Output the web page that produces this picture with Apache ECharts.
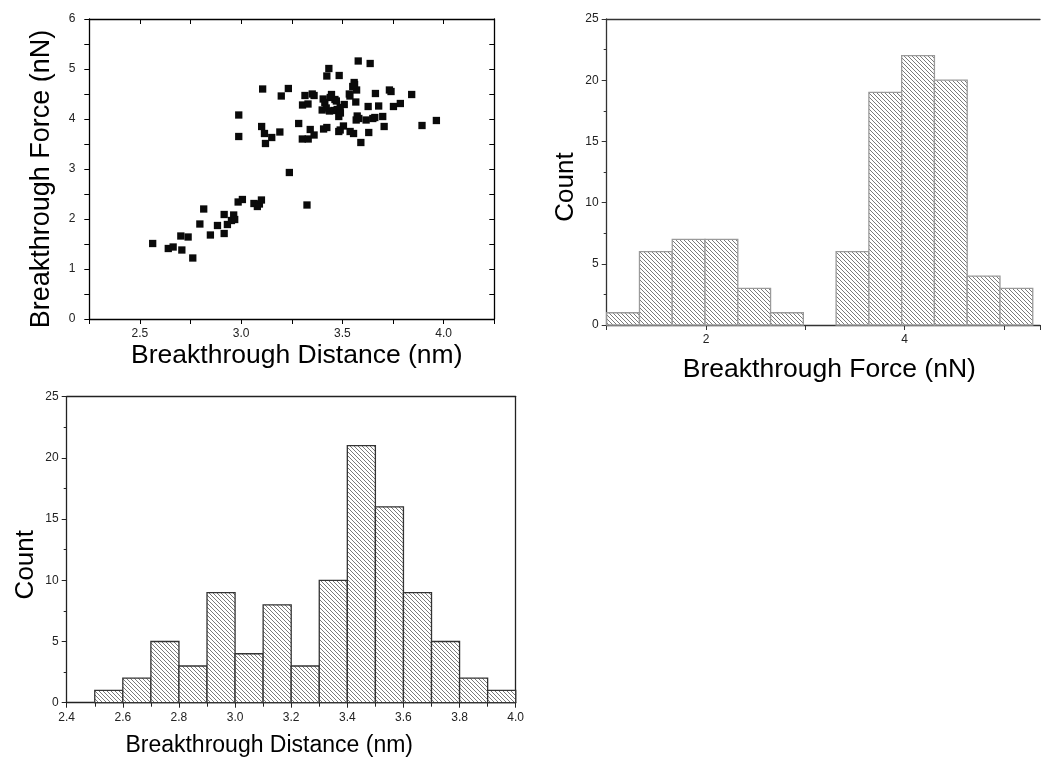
<!DOCTYPE html>
<html><head><meta charset="utf-8">
<script src="https://cdn.jsdelivr.net/npm/echarts@6/dist/echarts.min.js"></script>
<style>html,body{margin:0;padding:0;background:#fff}#c{width:1043px;height:760px}</style>
</head><body><div id="c"></div>
<script>
// ---- Scatter: Breakthrough Distance (nm) vs Breakthrough Force (nN) ----
const scatterDistance = [
  2.563,2.64,2.664,2.702,2.738,2.707,2.761,2.796,2.815,2.848,2.883,2.916,2.916,2.932,2.952,2.963,2.968,2.985,3.006,3.063,3.08,3.09,3.10,3.238,3.325,
  3.106,3.233,3.198,3.315,3.351,3.303,2.988,3.284,3.101,3.115,3.191,3.151,3.341,2.988,3.12,3.302,3.331,3.36,
  3.578,3.637,3.433,3.423,3.484,3.558,3.551,3.57,3.663,3.534,3.446,3.463,3.405,3.413,
  3.537,3.566,3.509,3.627,3.679,3.489,3.40,3.436,3.458,3.474,
  3.482,3.573,3.568,3.581,3.617,3.65,3.699,3.706,3.407,3.423,
  3.505,3.482,3.489,3.538,3.555,3.63,3.591,
  3.732,3.842,3.786,3.752,3.893,3.964,
  3.36,3.44,3.47,3.74,3.33,3.42,3.49,3.66,3.56
];
const scatterForce = [
  1.51,1.41,1.44,1.66,1.64,1.38,1.22,1.90,2.20,1.68,1.87,2.09,1.71,1.89,1.97,2.08,1.99,2.34,2.39,2.31,2.25,2.30,2.38,2.93,2.28,
  4.60,4.61,4.46,4.47,4.50,4.28,4.08,3.91,3.85,3.71,3.74,3.63,3.79,3.65,3.51,3.60,3.60,3.68,
  5.16,5.11,5.01,4.86,4.87,4.73,4.65,4.58,4.51,4.50,4.49,4.39,4.40,4.33,
  4.46,4.34,4.29,4.25,4.26,4.23,4.18,4.16,4.17,4.19,
  4.05,4.06,3.98,4.01,3.98,4.01,4.05,3.85,3.80,3.83,
  3.86,3.75,3.78,3.75,3.71,3.73,3.53,
  4.58,4.49,4.31,4.25,3.87,3.97,
  4.47,4.43,4.36,4.55,4.30,4.22,4.12,4.03,4.69
];

// ---- Histogram of Breakthrough Force (nN) ----
const forceBinStart = 1.0;
const forceBinWidth = 0.33;
const forceCounts = [1, 6, 7, 7, 3, 1, 0, 6, 19, 22, 20, 4, 3];

// ---- Histogram of Breakthrough Distance (nm) ----
const distBinStart = 2.5;
const distBinWidth = 0.1;
const distCounts = [1, 2, 5, 3, 9, 4, 8, 3, 10, 21, 16, 9, 5, 2, 1];

const FONT = 'Liberation Sans, Arial, Helvetica, sans-serif';

function makeHatch(color, size) {
  const c = document.createElement('canvas');
  c.width = size; c.height = size;
  const g = c.getContext('2d');
  g.fillStyle = '#ffffff'; g.fillRect(0, 0, size, size);
  g.fillStyle = color;
  for (let i = 0; i < size; i++) g.fillRect(i, i, 1, 1);
  return c;
}
const hatch = makeHatch('#7a7a7a', 4);

function histData(start, width, counts) {
  return counts.map((c, i) => [start + i * width, start + (i + 1) * width, c]);
}
function histRender(stroke) {
  return function (params, api) {
    const x0 = api.value(0), x1 = api.value(1), c = api.value(2);
    if (!c) return null;
    const p0 = api.coord([x0, 0]);
    const p1 = api.coord([x1, c]);
    return {
      type: 'rect',
      shape: { x: p0[0], y: p1[1], width: p1[0] - p0[0], height: p0[1] - p1[1] },
      style: { fill: { image: hatch, repeat: 'repeat' }, stroke: stroke, lineWidth: 1.3 }
    };
  };
}

const lbl = (extra) => Object.assign({ fontSize: 12, color: '#222', fontFamily: FONT }, extra || {});
const nameStyle = (size, extra) => Object.assign({ fontSize: size, color: '#000', fontFamily: FONT }, extra || {});
const line = (color) => ({ show: true, onZero: false, lineStyle: { color: color, width: 1.3 } });
const noSplit = { show: false };

const option = {
  animation: false,
  backgroundColor: '#fff',
  grid: [
    { left: 89.3, top: 19, width: 405, height: 300 },
    { left: 606.7, top: 19, width: 436.3, height: 306 },
    { left: 66.7, top: 396.7, width: 449, height: 306 }
  ],
  xAxis: [
    { gridIndex: 0, type: 'value', min: 2.25, max: 4.25, interval: 0.25, position: 'bottom',
      axisLine: line('#000'), axisTick: { show: true, inside: false, length: 5, lineStyle: { color: '#000' } },
      axisLabel: lbl({ margin: 9, formatter: v => (Math.abs(v * 2 - Math.round(v * 2)) < 1e-6 ? v.toFixed(1) : '') }),
      splitLine: noSplit,
      name: 'Breakthrough Distance (nm)', nameLocation: 'middle', nameGap: 23,
      nameTextStyle: nameStyle(26.5, { padding: [0, 0, 0, 10] }) },
    { gridIndex: 0, type: 'value', min: 2.25, max: 4.25, interval: 0.25, position: 'top',
      axisLine: line('#000'), axisTick: { show: true, inside: true, length: 5, lineStyle: { color: '#000' } },
      axisLabel: { show: false }, splitLine: noSplit },
    { gridIndex: 1, type: 'value', min: 1, max: 5.363, interval: 1, position: 'bottom',
      axisLine: line('#333'), axisTick: { show: true, inside: false, length: 5, lineStyle: { color: '#333' } },
      axisLabel: lbl({ margin: 9, formatter: v => (Math.abs(v - 2) < 1e-6 || Math.abs(v - 4) < 1e-6 ? String(Math.round(v)) : '') }),
      splitLine: noSplit,
      name: 'Breakthrough Force (nN)', nameLocation: 'middle', nameGap: 31,
      nameTextStyle: nameStyle(26.5, { padding: [0, 0, 0, 12] }) },
    { gridIndex: 1, type: 'value', min: 1, max: 5.363, position: 'top',
      axisLine: line('#333'), axisTick: { show: false }, axisLabel: { show: false }, splitLine: noSplit },
    { gridIndex: 2, type: 'value', min: 2.4, max: 4.0, interval: 0.2, position: 'bottom',
      axisLine: line('#222'), axisTick: { show: true, inside: false, length: 5, lineStyle: { color: '#222' } },
      minorTick: { show: true, splitNumber: 2, length: 4, lineStyle: { color: '#222' } },
      axisLabel: lbl({ margin: 9, formatter: v => v.toFixed(1) }),
      splitLine: noSplit, minorSplitLine: { show: false },
      name: 'Breakthrough Distance (nm)', nameLocation: 'middle', nameGap: 31,
      nameTextStyle: nameStyle(23, { padding: [0, 44, 0, 0] }) },
    { gridIndex: 2, type: 'value', min: 2.4, max: 4.0, position: 'top',
      axisLine: line('#222'), axisTick: { show: false }, axisLabel: { show: false }, splitLine: noSplit }
  ],
  yAxis: [
    { gridIndex: 0, type: 'value', min: 0, max: 6, interval: 0.5, position: 'left',
      axisLine: line('#000'), axisTick: { show: true, inside: false, length: 5, lineStyle: { color: '#000' } },
      axisLabel: lbl({ margin: 14, formatter: v => (Math.abs(v - Math.round(v)) < 1e-6 ? String(Math.round(v)) : '') }),
      splitLine: noSplit,
      name: 'Breakthrough Force (nN)', nameLocation: 'middle', nameGap: 34,
      nameTextStyle: nameStyle(27, { padding: [0, 20, 0, 0] }) },
    { gridIndex: 0, type: 'value', min: 0, max: 6, interval: 0.5, position: 'right',
      axisLine: line('#000'), axisTick: { show: true, inside: true, length: 5, lineStyle: { color: '#000' } },
      axisLabel: { show: false }, splitLine: noSplit },
    { gridIndex: 1, type: 'value', min: 0, max: 25, interval: 5, position: 'left',
      axisLine: line('#333'), axisTick: { show: true, inside: false, length: 5, lineStyle: { color: '#333' } },
      minorTick: { show: true, splitNumber: 2, length: 3, lineStyle: { color: '#333' } },
      axisLabel: lbl({ margin: 8 }), splitLine: noSplit, minorSplitLine: { show: false },
      name: 'Count', nameLocation: 'middle', nameGap: 28,
      nameTextStyle: nameStyle(26, { padding: [0, 30, 0, 0] }) },
    { gridIndex: 2, type: 'value', min: 0, max: 25, interval: 5, position: 'left',
      axisLine: line('#222'), axisTick: { show: true, inside: false, length: 5, lineStyle: { color: '#222' } },
      minorTick: { show: true, splitNumber: 2, length: 3, lineStyle: { color: '#222' } },
      axisLabel: lbl({ margin: 8 }), splitLine: noSplit, minorSplitLine: { show: false },
      name: 'Count', nameLocation: 'middle', nameGap: 28,
      nameTextStyle: nameStyle(26, { padding: [0, 30, 0, 0] }) },
    { gridIndex: 2, type: 'value', min: 0, max: 25, position: 'right',
      axisLine: line('#222'), axisTick: { show: false }, axisLabel: { show: false }, splitLine: noSplit }
  ],
  series: [
    { type: 'scatter', xAxisIndex: 0, yAxisIndex: 0, symbol: 'rect', symbolSize: 7.3,
      itemStyle: { color: '#0a0a0a', opacity: 1 },
      data: scatterDistance.map((d, i) => [d, scatterForce[i]]) },
    { type: 'custom', xAxisIndex: 2, yAxisIndex: 2, renderItem: histRender('#9a9a9a'),
      encode: { x: [0, 1], y: 2 }, clip: false,
      data: histData(forceBinStart, forceBinWidth, forceCounts) },
    { type: 'custom', xAxisIndex: 4, yAxisIndex: 3, renderItem: histRender('#333'),
      encode: { x: [0, 1], y: 2 }, clip: false,
      data: histData(distBinStart, distBinWidth, distCounts) }
  ]
};
const chart = echarts.init(document.getElementById('c'), null, { renderer: 'canvas' });
chart.setOption(option);
</script>
</body></html>
